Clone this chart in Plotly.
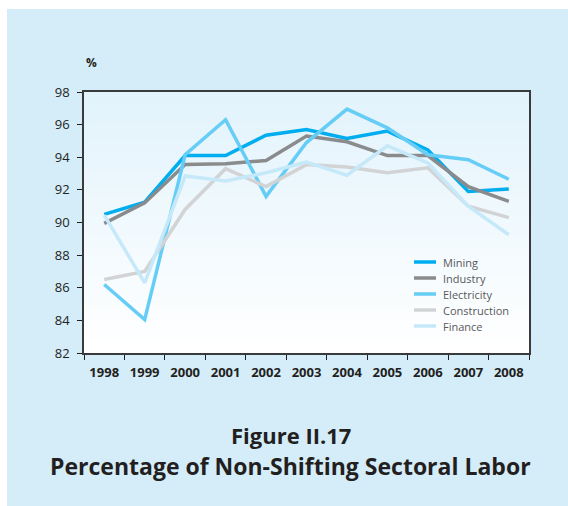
import plotly.graph_objects as go

# Years on the category axis
years = ["1998", "1999", "2000", "2001", "2002", "2003",
         "2004", "2005", "2006", "2007", "2008"]

# Share of labor that stayed in the same sector (%)
mining = [90.5, 91.25, 94.1, 94.1, 95.35, 95.7, 95.15, 95.6, 94.45, 91.9, 92.05]
industry = [89.95, 91.2, 93.55, 93.6, 93.8, 95.3, 94.95, 94.1, 94.1, 92.2, 91.3]
electricity = [86.2, 84.05, 94.15, 96.3, 91.6, 94.9, 96.95, 95.8, 94.15, 93.85, 92.65]
construction = [86.5, 87.0, 90.8, 93.3, 92.2, 93.55, 93.4, 93.05, 93.35, 91.0, 90.3]
finance = [90.45, 86.3, 92.85, 92.55, 93.05, 93.7, 92.9, 94.7, 93.65, 91.0, 89.25]

series_names = ["Mining", "Industry", "Electricity", "Construction", "Finance"]
series_values = [mining, industry, electricity, construction, finance]
series_colors = ["#00aeef", "#8a8b8d", "#66cdf6", "#d2d3d5", "#c6e9fa"]

y_ticks = [82, 84, 86, 88, 90, 92, 94, 96, 98]

FONT = "Open Sans"
INK = "#231f20"

# plot area in pixels (used to place the key and the backdrop in paper units)
PLOT_L, PLOT_R, PLOT_T, PLOT_B = 84, 529, 92, 353
W, H = 568, 506


def px_x(px):
    return (px - PLOT_L) / (PLOT_R - PLOT_L)


def px_y(py):
    return (PLOT_B - py) / (PLOT_B - PLOT_T)


fig = go.Figure()
for name, vals, col in zip(series_names, series_values, series_colors):
    fig.add_trace(go.Scatter(
        x=years, y=vals, name=name, mode="lines",
        line=dict(color=col, width=3.5),
        hoverinfo="x+y+name", showlegend=False,
    ))

shapes = []
# light blue backdrop panel behind the whole figure
shapes.append(dict(type="rect", xref="paper", yref="paper",
                   x0=px_x(7), x1=px_x(W + 5), y0=px_y(H + 5), y1=px_y(9),
                   fillcolor="#d5ecf9", line=dict(width=0), layer="below"))
# plot area: vertical fade from pale blue at the top to white at the bottom
n_bands = 40
top_rgb = (226, 243, 252)
bot_rgb = (255, 255, 255)
for i in range(n_bands):
    t = i / (n_bands - 1)
    r = round(bot_rgb[0] + (top_rgb[0] - bot_rgb[0]) * t)
    g = round(bot_rgb[1] + (top_rgb[1] - bot_rgb[1]) * t)
    b = round(bot_rgb[2] + (top_rgb[2] - bot_rgb[2]) * t)
    shapes.append(dict(type="rect", xref="paper", yref="paper",
                       x0=0, x1=1, y0=i / n_bands, y1=(i + 1) / n_bands + 0.002,
                       fillcolor=f"rgb({r},{g},{b})", line=dict(width=0),
                       layer="below"))

annotations = [
    dict(text="<b>%</b>", xref="paper", yref="paper", x=px_x(84), y=px_y(63),
         xanchor="left", yanchor="middle", showarrow=False,
         font=dict(family=FONT, size=12, color=INK)),
    dict(text="<b>Figure II.17</b>", xref="paper", yref="paper",
         x=px_x(291), y=px_y(435), xanchor="center", yanchor="middle",
         showarrow=False, font=dict(family=FONT, size=22, color=INK)),
    dict(text="<b>Percentage of Non-Shifting Sectoral Labor</b>",
         xref="paper", yref="paper", x=px_x(290), y=px_y(466),
         xanchor="center", yanchor="middle", showarrow=False,
         font=dict(family=FONT, size=23, color=INK)),
]

# key: short coloured sample line plus the series name, one row per series
KEY_X0, KEY_X1, KEY_TEXT_X, KEY_Y0, KEY_STEP = 414, 436, 441, 262, 16
for i, (name, col) in enumerate(zip(series_names, series_colors)):
    yy = px_y(KEY_Y0 + i * KEY_STEP)
    shapes.append(dict(type="line", xref="paper", yref="paper",
                       x0=px_x(KEY_X0), x1=px_x(KEY_X1), y0=yy, y1=yy,
                       line=dict(color=col, width=3.5)))
    annotations.append(dict(text=name, xref="paper", yref="paper",
                            x=px_x(KEY_TEXT_X), y=yy, xanchor="left",
                            yanchor="middle", showarrow=False,
                            font=dict(family=FONT, size=11, color="#58595b")))

fig.update_layout(
    width=W, height=H,
    margin=dict(l=PLOT_L, r=W - PLOT_R, t=PLOT_T, b=H - PLOT_B),
    paper_bgcolor="white",
    plot_bgcolor="rgba(0,0,0,0)",
    shapes=shapes,
    annotations=annotations,
    showlegend=False,
    xaxis=dict(
        type="category", range=[-0.5, 10.5],
        tickson="boundaries", ticks="outside", ticklen=5, tickwidth=1.2,
        tickcolor="#231f20",
        showline=True, linecolor="#3a3a3c", linewidth=1.5, mirror=True,
        showgrid=False, zeroline=False,
        tickfont=dict(family=FONT, size=13, color=INK, weight="bold"),
        ticklabelstandoff=7,
    ),
    yaxis=dict(
        range=[82, 98], tickvals=y_ticks,
        ticks="outside", ticklen=5, tickwidth=1.2, tickcolor="#231f20",
        showline=True, linecolor="#3a3a3c", linewidth=1.5, mirror=True,
        showgrid=False, zeroline=False,
        tickfont=dict(family=FONT, size=13, color=INK),
        ticklabelstandoff=5,
    ),
)

fig.write_html("out.html")
